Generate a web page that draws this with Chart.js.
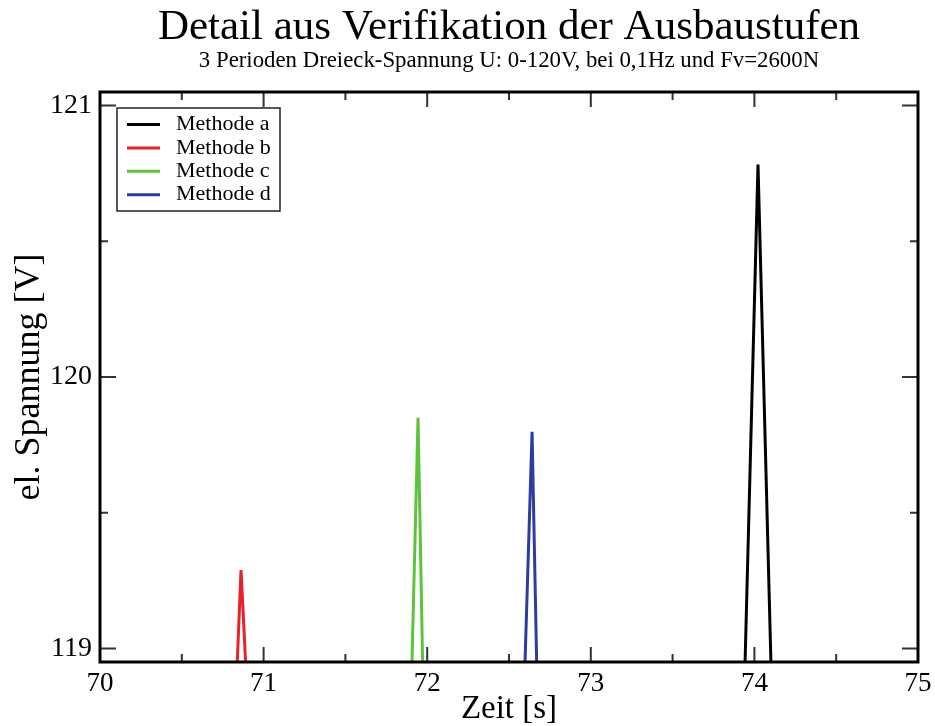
<!DOCTYPE html>
<html>
<head>
<meta charset="utf-8">
<script src="https://cdn.jsdelivr.net/npm/chart.js@4/dist/chart.umd.min.js"></script>
<style>
  html, body { margin: 0; padding: 0; background: #fff; }
  canvas { display: block; }
</style>
</head>
<body>
<canvas id="c" width="935" height="726"></canvas>
<script>
// ---- data ----
const seriesLabels = ['Methode a', 'Methode b', 'Methode c', 'Methode d'];
const timeA = [73.943, 74.022, 74.101];
const voltA = [118.95, 120.783, 118.95];
const timeB = [70.839, 70.862, 70.890];
const voltB = [118.95, 119.289, 118.95];
const timeC = [71.907, 71.944, 71.972];
const voltC = [118.95, 119.850, 118.95];
const timeD = [72.598, 72.641, 72.669];
const voltD = [118.95, 119.798, 118.95];
const xMajorTicks = [70, 71, 72, 73, 74, 75];
const xMinorTicks = [70.5, 71.5, 72.5, 73.5, 74.5];
const yMajorTicks = [119, 120, 121];
const yMinorTicks = [119.5, 120.5];

const colors = ['#000000', '#e3242b', '#5ec33c', '#2c3d9e'];
const SERIF = "'Liberation Serif', 'Times New Roman', serif";

function pts(xs, ys) { return xs.map((x, i) => ({ x: x, y: ys[i] })); }
const seriesData = [pts(timeA, voltA), pts(timeB, voltB), pts(timeC, voltC), pts(timeD, voltD)];

const frameAndTicks = {
  id: 'frameAndTicks',
  afterDatasetsDraw(chart) {
    const ctx = chart.ctx;
    const a = chart.chartArea;
    const xs = chart.scales.x, ys = chart.scales.y;
    ctx.save();
    ctx.strokeStyle = '#333';
    ctx.lineWidth = 2;
    ctx.beginPath();
    const tick = (v, len, horiz) => {
      if (horiz) {
        const px = xs.getPixelForValue(v);
        ctx.moveTo(px, a.bottom); ctx.lineTo(px, a.bottom - len);
        ctx.moveTo(px, a.top); ctx.lineTo(px, a.top + len);
      } else {
        const py = ys.getPixelForValue(v);
        ctx.moveTo(a.left, py); ctx.lineTo(a.left + len, py);
        ctx.moveTo(a.right, py); ctx.lineTo(a.right - len, py);
      }
    };
    xMajorTicks.forEach(v => tick(v, 15, true));
    xMinorTicks.forEach(v => tick(v, 8, true));
    yMajorTicks.forEach(v => tick(v, 16, false));
    yMinorTicks.forEach(v => tick(v, 8, false));
    ctx.stroke();
    ctx.strokeStyle = '#000';
    ctx.lineWidth = 3;
    ctx.strokeRect(a.left, a.top, a.right - a.left, a.bottom - a.top);
    ctx.restore();
  },
  afterDraw(chart) {
    const ctx = chart.ctx;
    const a = chart.chartArea;
    const bx = a.left + 17, by = a.top + 16, bw = 163, bh = 103;
    ctx.save();
    ctx.fillStyle = '#fff';
    ctx.fillRect(bx, by, bw, bh);
    ctx.strokeStyle = '#222';
    ctx.lineWidth = 1.5;
    ctx.strokeRect(bx, by, bw, bh);
    ctx.font = '22px ' + SERIF;
    ctx.textBaseline = 'middle';
    ctx.textAlign = 'left';
    chart.data.datasets.forEach((ds, i) => {
      const ry = by + 16.5 + i * 23.4;
      ctx.strokeStyle = ds.borderColor;
      ctx.lineWidth = 3;
      ctx.beginPath();
      ctx.moveTo(bx + 10, ry); ctx.lineTo(bx + 43, ry);
      ctx.stroke();
      ctx.fillStyle = '#000';
      ctx.fillText(ds.label, bx + 59, ry);
    });
    ctx.restore();
  }
};

new Chart(document.getElementById('c'), {
  type: 'line',
  data: {
    datasets: seriesData.map((d, i) => ({
      label: seriesLabels[i],
      data: d,
      borderColor: colors[i],
      backgroundColor: colors[i],
      borderWidth: 3,
      pointRadius: 0,
      tension: 0,
      fill: false,
      borderJoinStyle: 'miter'
    }))
  },
  options: {
    responsive: false,
    animation: false,
    layout: { padding: { left: 0, right: 17, top: 0, bottom: 0 } },
    plugins: {
      legend: { display: false },
      tooltip: { enabled: false },
      title: {
        display: true,
        fullSize: false,
        text: 'Detail aus Verifikation der Ausbaustufen',
        color: '#000',
        font: { family: SERIF, size: 43, weight: 'normal', lineHeight: 1.0 },
        padding: { top: 6, bottom: 0 }
      },
      subtitle: {
        display: true,
        fullSize: false,
        text: '3 Perioden Dreieck-Spannung U: 0-120V, bei 0,1Hz und Fv=2600N',
        color: '#000',
        font: { family: SERIF, size: 22.8, weight: 'normal', lineHeight: 1.0 },
        padding: { top: 1, bottom: 19.2 }
      }
    },
    scales: {
      x: {
        type: 'linear',
        min: 70, max: 75,
        afterBuildTicks: s => { s.ticks = xMajorTicks.map(v => ({ value: v })); },
        afterFit: s => { s.height = 64; s.paddingLeft = 0; s.paddingRight = 0; },
        grid: { display: false, drawTicks: false },
        border: { display: false },
        ticks: { color: '#000', padding: 6, maxRotation: 0, font: { family: SERIF, size: 27 } },
        title: {
          display: true, text: 'Zeit [s]', color: '#000',
          font: { family: SERIF, size: 33, lineHeight: 1.0 },
          padding: { top: 0, bottom: 0 }
        }
      },
      y: {
        type: 'linear',
        min: 118.95, max: 121.05,
        afterBuildTicks: s => { s.ticks = yMajorTicks.map(v => ({ value: v })); },
        afterFit: s => { s.width = 100; s.paddingTop = 0; s.paddingBottom = 0; },
        grid: { display: false, drawTicks: false },
        border: { display: false },
        ticks: { color: '#000', padding: 8, font: { family: SERIF, size: 28 } },
        title: {
          display: true, text: 'el. Spannung [V]', color: '#000',
          font: { family: SERIF, size: 36, lineHeight: 1.0 },
          padding: { top: 12, bottom: 0 }
        }
      }
    }
  },
  plugins: [frameAndTicks]
});
</script>
</body>
</html>
